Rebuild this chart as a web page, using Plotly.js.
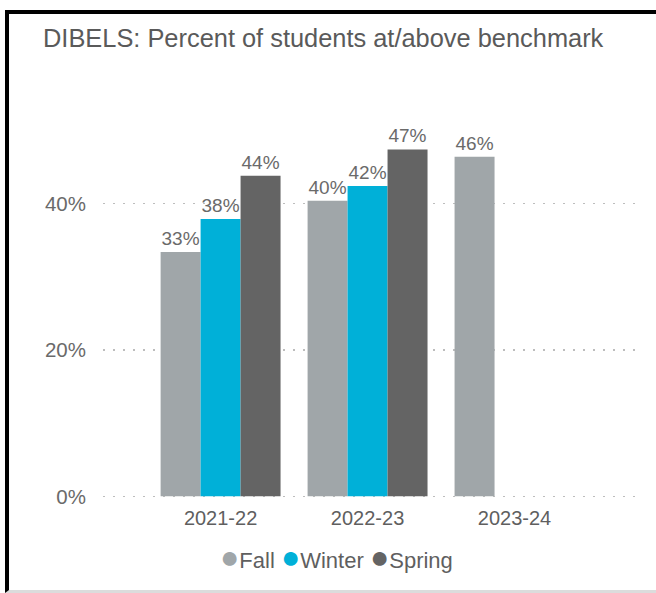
<!DOCTYPE html>
<html>
<head>
<meta charset="utf-8">
<script src="https://cdn.plot.ly/plotly-3.0.1.min.js"></script>
<style>
  html, body { margin: 0; padding: 0; background: #ffffff; width: 656px; height: 593px; overflow: hidden; }
  #frame { position: absolute; left: 5px; top: 10px; width: 651px; height: 583px;
           border-top: 4px solid #000; border-left: 4px solid #000; border-bottom: 3px solid #dcdcdc; box-sizing: border-box; }
  #chart { position: absolute; left: 0; top: 0; width: 656px; height: 593px; }
</style>
</head>
<body>
<div id="frame"></div>
<div id="chart"></div>
<script>
const years = ["2021-22", "2022-23", "2023-24"];
const fall = [33.4, 40.4, 46.4];
const winter = [37.9, 42.4, null];
const spring = [43.8, 47.4, null];
const seriesNames = ["Fall", "Winter", "Spring"];
const seriesColors = ["#A0A6A9", "#00B0D8", "#646464"];
const yTicks = [0, 20, 40];

const seriesValues = [fall, winter, spring];
const font = "Liberation Sans, Arial, sans-serif";

const traces = seriesValues.map((vals, i) => ({
  type: "bar",
  x: years,
  y: vals,
  name: seriesNames[i],
  showlegend: false,
  marker: { color: seriesColors[i] },
  texttemplate: "%{y:.0f}%",
  textposition: "outside",
  cliponaxis: false,
  textfont: { family: font, size: 19, color: "#6a6a6a" },
  hoverinfo: "skip"
}));

// legend drawn as a single line of text built from the series names and colours
const legendText = seriesNames.map((n, i) =>
  '<span style="color:' + seriesColors[i] + ';font-size:32px">\u25CF</span>' + n
).join(' ');

const layout = {
  width: 656,
  height: 593,
  paper_bgcolor: "rgba(0,0,0,0)",
  plot_bgcolor: "rgba(0,0,0,0)",
  margin: { l: 103, r: 18, t: 100, b: 93.4 },
  title: {
    text: "DIBELS: Percent of students at/above benchmark",
    font: { family: font, size: 25.4, color: "#5a5a5a" },
    x: 43 / 656, xref: "container", xanchor: "left",
    y: 1 - 38 / 593, yref: "container", yanchor: "middle"
  },
  barmode: "group",
  bargap: 0.184,
  bargroupgap: 0,
  xaxis: {
    type: "category",
    range: [-0.8, 2.84],
    showgrid: false,
    zeroline: false,
    showline: false,
    ticks: "",
    tickfont: { family: font, size: 20, color: "#5f5f5f" },
    ticklabelstandoff: 4
  },
  yaxis: {
    range: [-0.5, 54.15],
    tickvals: yTicks,
    ticktext: yTicks.map(v => v + "%"),
    showgrid: true,
    gridcolor: "#bdbdbd",
    griddash: "2px,8px",
    gridwidth: 1.5,
    zeroline: false,
    showline: false,
    ticks: "",
    tickfont: { family: font, size: 20.5, color: "#6a6a6a" },
    ticklabelstandoff: 16
  },
  showlegend: false,
  annotations: [{
    text: legendText,
    xref: "paper", yref: "paper",
    x: (336 - 103) / 535, y: -57 / 399.6,
    xanchor: "center", yanchor: "middle",
    showarrow: false,
    font: { family: font, size: 22, color: "#5f5f5f" }
  }]
};

Plotly.newPlot("chart", traces, layout, { displayModeBar: false, staticPlot: true });
</script>
</body>
</html>
